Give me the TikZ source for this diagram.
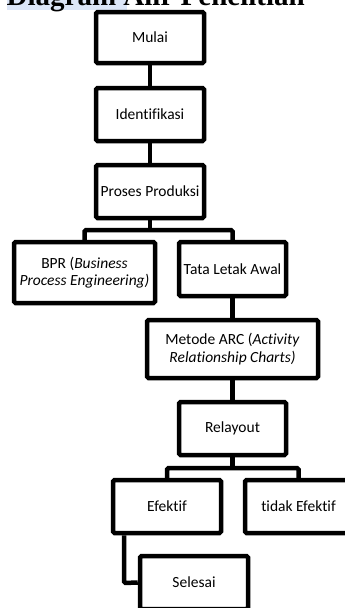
\documentclass[tikz,border=0pt]{standalone}
\usepackage{fontspec}
\setmainfont{Carlito}[Ligatures=NoCommon]
\newfontfamily\titlefont{Liberation Serif}
\definecolor{hl}{HTML}{DCE6F8}
\begin{document}
\begin{tikzpicture}[x=1pt,y=-1pt,
  box/.style={draw=black,line width=4.5pt,rounded corners=1.5pt,fill=white,
    inner sep=0pt,align=center,font=\fontsize{15.5}{17.5}\selectfont},
  conn/.style={draw=black,line width=4.5pt,rounded corners=1.5pt}]
\useasboundingbox (0,0) rectangle (345,608);
\clip (0,0) rectangle (345,608);
% title
\fill[hl] (7,-2) rectangle (127,9.5);
\node[anchor=base west,inner sep=0pt,font=\titlefont\bfseries\fontsize{29}{30}\selectfont] (title) at (6.5,5.5) {Diagram Alir Penelitian};
% junction points
\coordinate (b1) at (150,230);
\coordinate (b1l) at (84.5,230);
\coordinate (b1r) at (232.5,230);
\coordinate (b2) at (232.5,468);
\coordinate (b2l) at (167,468);
\coordinate (b2r) at (298.5,468);
\coordinate (sx) at (124,583);
% boxes
\node[box,minimum width=108,minimum height=51] (mulai) at (150,37.5) {Mulai};
\node[box,minimum width=108,minimum height=53] (ident) at (150,114.5) {Identifikasi};
\node[box,minimum width=108,minimum height=53] (proses) at (150,191.5) {Proses Produksi};
\node[box,minimum width=141,minimum height=61] (bpr) at (84.5,272.5) {BPR (\textit{Business}\\\textit{Process Engineering)}};
\node[box,minimum width=107,minimum height=54] (tata) at (232.5,269) {Tata Letak Awal};
\node[box,minimum width=171,minimum height=58] (arc) at (232.5,349) {Metode ARC (\textit{Activity}\\\textit{Relationship Charts)}};
\node[box,minimum width=107,minimum height=53] (relay) at (232.5,428.5) {Relayout};
\node[box,minimum width=108,minimum height=53] (efek) at (167,506.5) {Efektif};
\node[box,minimum width=107,minimum height=53] (tidak) at (298.5,506.5) {tidak Efektif};
\node[box,minimum width=108,minimum height=53] (selesai) at (194,582.5) {Selesai};
% connectors
\draw[conn] (mulai.south) -- (ident.north);
\draw[conn] (ident.south) -- (proses.north);
\draw[conn] (proses.south) -- (b1);
\draw[conn] (bpr.north) -- (b1l) -- (b1r) -- (tata.north);
\draw[conn] (tata.south) -- (arc.north);
\draw[conn] (arc.south) -- (relay.north);
\draw[conn] (relay.south) -- (b2);
\draw[conn] (efek.north) -- (b2l) -- (b2r) -- (tidak.north);
\draw[conn] (efek.south -| sx) -- (sx) -- (selesai.west);
\end{tikzpicture}
\end{document}
